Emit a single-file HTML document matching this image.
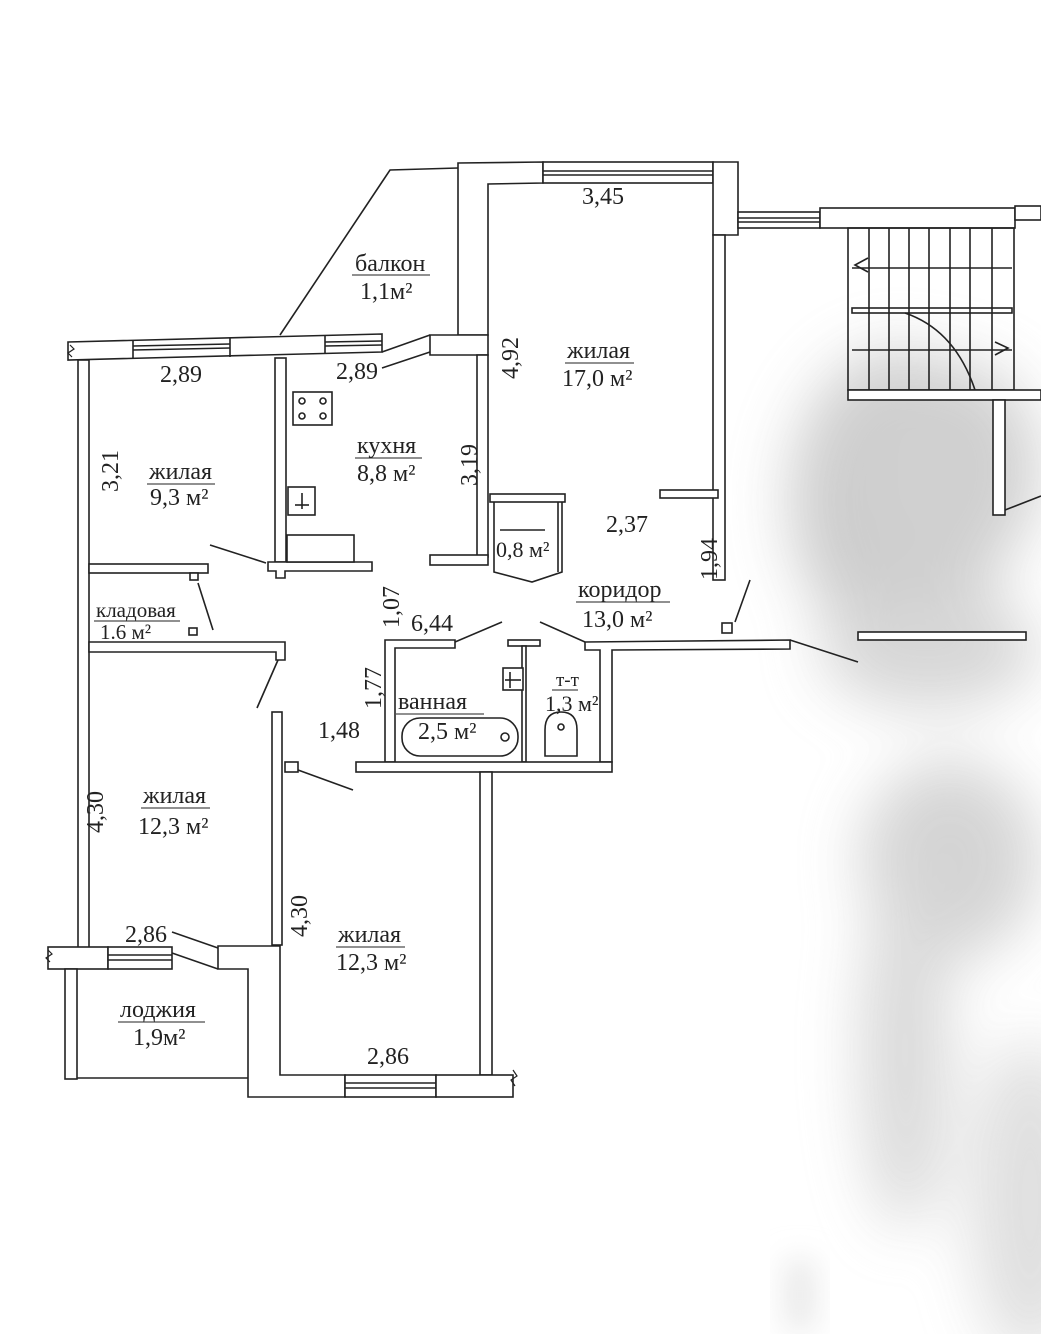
<!DOCTYPE html>
<html><head><meta charset="utf-8"><style>
html,body{margin:0;padding:0;background:#fff}
svg{display:block}
text{font-family:"Liberation Serif",serif;fill:#222}
</style></head><body>
<svg width="1041" height="1334" viewBox="0 0 1041 1334" xmlns="http://www.w3.org/2000/svg">
<defs>
<filter id="b" x="-50%" y="-50%" width="200%" height="200%"><feGaussianBlur stdDeviation="30"/></filter>
<filter id="b2" x="-50%" y="-50%" width="200%" height="200%"><feGaussianBlur stdDeviation="15"/></filter>
</defs>
<rect width="1041" height="1334" fill="#fff"/>
<g filter="url(#b)" opacity="0.9">
<ellipse cx="900" cy="500" rx="110" ry="150" fill="#c8c8c8"/>
<ellipse cx="950" cy="470" rx="90" ry="110" fill="#cbcbcb"/>
<ellipse cx="930" cy="650" rx="110" ry="60" fill="#d3d3d3"/>
<ellipse cx="950" cy="860" rx="90" ry="100" fill="#d0d0d0"/>
<ellipse cx="905" cy="1050" rx="45" ry="180" fill="#d6d6d6"/>
<ellipse cx="1030" cy="1200" rx="60" ry="160" fill="#dcdcdc"/>
</g>
<g filter="url(#b2)">
<rect x="785" y="1260" width="30" height="70" fill="#e8e8e8"/>
</g>

<g fill="#fff" stroke="#222" stroke-width="1.6">
<polyline points="280,335 390,170 458,168" fill="none"/>
<polygon points="458,163 543,162 543,183 488,184 488,335 458,335"/>
<rect x="543" y="162" width="170" height="21"/>
<line x1="543" y1="171" x2="713" y2="171"/><line x1="543" y1="175" x2="713" y2="175"/>
<polygon points="713,162 738,162 738,235 713,235"/>
<rect x="713" y="235" width="12" height="345"/>
<rect x="738" y="212" width="82" height="16"/>
<line x1="738" y1="218" x2="820" y2="218"/><line x1="738" y1="222" x2="820" y2="222"/>
<rect x="820" y="208" width="195" height="20"/>
<rect x="1015" y="206" width="26" height="14"/>
<rect x="848" y="228" width="166" height="162" fill="none"/>
<line x1="852" y1="268" x2="1012" y2="268"/><line x1="852" y1="350" x2="1012" y2="350"/>
<rect x="852" y="308" width="160" height="5"/>
<line x1="869" y1="228" x2="869" y2="390"/><line x1="889" y1="228" x2="889" y2="390"/><line x1="909" y1="228" x2="909" y2="390"/><line x1="929" y1="228" x2="929" y2="390"/><line x1="950" y1="228" x2="950" y2="390"/><line x1="970" y1="228" x2="970" y2="390"/><line x1="992" y1="228" x2="992" y2="390"/>
<path d="M905,313 Q955,330 975,390" fill="none"/>
<path d="M868,258 L855,265 L868,272" fill="none"/>
<path d="M995,342 L1008,348 L995,355" fill="none"/>
<rect x="848" y="390" width="193" height="10"/>
<rect x="993" y="400" width="12" height="115"/>
<line x1="1005" y1="510" x2="1041" y2="496"/>
<rect x="858" y="632" width="168" height="8"/>
<polygon points="68,342 382,334 382,352 68,360"/>
<line x1="133" y1="340" x2="133" y2="359"/><line x1="230" y1="338" x2="230" y2="357"/><line x1="325" y1="336" x2="325" y2="354"/>
<line x1="133" y1="346" x2="230" y2="344"/><line x1="133" y1="350" x2="230" y2="348"/>
<line x1="325" y1="342" x2="382" y2="341"/><line x1="325" y1="346" x2="382" y2="345"/>
<line x1="382" y1="352" x2="430" y2="335"/><line x1="382" y1="368" x2="430" y2="352"/>
<polygon points="430,335 488,335 488,355 430,355"/>
<rect x="477" y="355" width="11" height="202"/>
<rect x="430" y="555" width="58" height="10"/>
<rect x="78" y="360" width="11" height="588"/>
<rect x="275" y="358" width="11" height="204"/>
<polygon points="268,562 372,562 372,571 285,571 285,578 276,578 276,571 268,571"/>
<rect x="287" y="535" width="67" height="27"/>
<rect x="293" y="392" width="39" height="33"/>
<circle cx="302" cy="401" r="3"/><circle cx="323" cy="401" r="3"/><circle cx="302" cy="416" r="3"/><circle cx="323" cy="416" r="3"/>
<rect x="288" y="487" width="27" height="28"/>
<line x1="302" y1="493" x2="302" y2="509"/><line x1="295" y1="505" x2="309" y2="505"/>
<line x1="210" y1="545" x2="266" y2="563"/>
<rect x="89" y="564" width="119" height="9"/>
<rect x="190" y="573" width="8" height="7"/>
<line x1="198" y1="583" x2="213" y2="630"/>
<rect x="189" y="628" width="8" height="7"/>
<polygon points="89,642 285,642 285,660 276,660 276,652 89,652"/>
<line x1="278" y1="660" x2="257" y2="708"/>
<rect x="490" y="494" width="75" height="8"/>
<polyline points="494,502 494,572 532,582 562,572 562,502" fill="none"/>
<line x1="558" y1="502" x2="558" y2="572"/>
<line x1="500" y1="530" x2="545" y2="530"/>
<rect x="660" y="490" width="58" height="8"/>
<line x1="750" y1="580" x2="735" y2="622"/>
<rect x="722" y="623" width="10" height="10"/>
<polygon points="385,640 455,640 455,648 395,648 395,762 385,762"/>
<line x1="455" y1="642" x2="502" y2="622"/>
<line x1="540" y1="622" x2="585" y2="642"/>
<rect x="508" y="640" width="32" height="6"/>
<rect x="522" y="646" width="4" height="116"/>
<polygon points="585,642 790,640 790,649 612,650 612,762 600,762 600,650 585,650"/>
<line x1="790" y1="640" x2="858" y2="662"/>
<rect x="356" y="762" width="256" height="10"/>
<rect x="402" y="718" width="116" height="38" rx="18"/>
<circle cx="505" cy="737" r="4"/>
<rect x="503" y="668" width="20" height="22"/>
<line x1="510" y1="672" x2="510" y2="688"/><line x1="505" y1="680" x2="521" y2="680"/>
<path d="M545,756 L545,730 Q545,712 561,712 Q577,712 577,730 L577,756 Z"/>
<circle cx="561" cy="727" r="3"/>
<rect x="272" y="712" width="10" height="233"/>
<rect x="285" y="762" width="13" height="10"/>
<line x1="298" y1="770" x2="353" y2="790"/>
<rect x="480" y="772" width="12" height="303"/>
<rect x="48" y="947" width="60" height="22"/>
<rect x="108" y="947" width="64" height="22"/>
<line x1="108" y1="955" x2="172" y2="955"/><line x1="108" y1="960" x2="172" y2="960"/>
<line x1="172" y1="932" x2="218" y2="948"/><line x1="172" y1="953" x2="218" y2="969"/>
<polygon points="218,946 280,946 280,1075 345,1075 345,1097 248,1097 248,969 218,969"/>
<rect x="345" y="1075" width="91" height="22"/>
<line x1="345" y1="1083" x2="436" y2="1083"/><line x1="345" y1="1088" x2="436" y2="1088"/>
<rect x="436" y="1075" width="77" height="22"/>
<rect x="65" y="969" width="12" height="110"/>
<line x1="77" y1="1078" x2="248" y2="1078"/>
</g>
<g stroke="#222" stroke-width="1.2" fill="none">
<path d="M70,345 l4,4 l-6,4 l4,4"/>
<path d="M48,950 l4,4 l-6,4 l4,4"/>
<path d="M513,1070 l4,6 l-6,4 l4,6"/>
</g>

<g font-size="24">
<text x="582" y="204">3,45</text>
<text x="355" y="271">балкон</text><line x1="352" y1="275" x2="430" y2="275" stroke="#222"/>
<text x="360" y="299">1,1м²</text>
<text x="160" y="382">2,89</text>
<text x="336" y="379">2,89</text>
<text x="567" y="358">жилая</text><line x1="565" y1="363" x2="634" y2="363" stroke="#222"/>
<text x="562" y="386">17,0 м²</text>
<text x="357" y="453">кухня</text><line x1="355" y1="458" x2="422" y2="458" stroke="#222"/>
<text x="357" y="481">8,8 м²</text>
<text x="149" y="479">жилая</text><line x1="147" y1="484" x2="215" y2="484" stroke="#222"/>
<text x="150" y="505">9,3 м²</text>
<text x="496" y="557" font-size="22">0,8 м²</text>
<text x="606" y="532">2,37</text>
<text x="578" y="597">коридор</text><line x1="576" y1="602" x2="670" y2="602" stroke="#222"/>
<text x="582" y="627">13,0 м²</text>
<text x="411" y="631">6,44</text>
<text x="398" y="709">ванная</text><line x1="396" y1="714" x2="484" y2="714" stroke="#222"/>
<text x="418" y="739">2,5 м²</text>
<text x="556" y="686" font-size="19">т-т</text><line x1="552" y1="690" x2="578" y2="690" stroke="#222"/>
<text x="545" y="711" font-size="22">1,3 м²</text>
<text x="318" y="738">1,48</text>
<text x="143" y="803">жилая</text><line x1="141" y1="808" x2="210" y2="808" stroke="#222"/>
<text x="138" y="834">12,3 м²</text>
<text x="338" y="942">жилая</text><line x1="336" y1="947" x2="405" y2="947" stroke="#222"/>
<text x="336" y="970">12,3 м²</text>
<text x="125" y="942">2,86</text>
<text x="120" y="1017">лоджия</text><line x1="118" y1="1022" x2="205" y2="1022" stroke="#222"/>
<text x="133" y="1045">1,9м²</text>
<text x="367" y="1064">2,86</text>
</g>
<g font-size="21">
<text x="96" y="617">кладовая</text><line x1="94" y1="621" x2="180" y2="621" stroke="#222"/>
<text x="100" y="639">1.6 м²</text>
</g>
<g font-size="24">
<text transform="translate(118,492) rotate(-90)">3,21</text>
<text transform="translate(477,486) rotate(-90)">3,19</text>
<text transform="translate(518,379) rotate(-90)">4,92</text>
<text transform="translate(717,580) rotate(-90)">1,94</text>
<text transform="translate(399,628) rotate(-90)">1,07</text>
<text transform="translate(381,709) rotate(-90)">1,77</text>
<text transform="translate(103,833) rotate(-90)">4,30</text>
<text transform="translate(307,937) rotate(-90)">4,30</text>
</g>
</svg>
</body></html>
